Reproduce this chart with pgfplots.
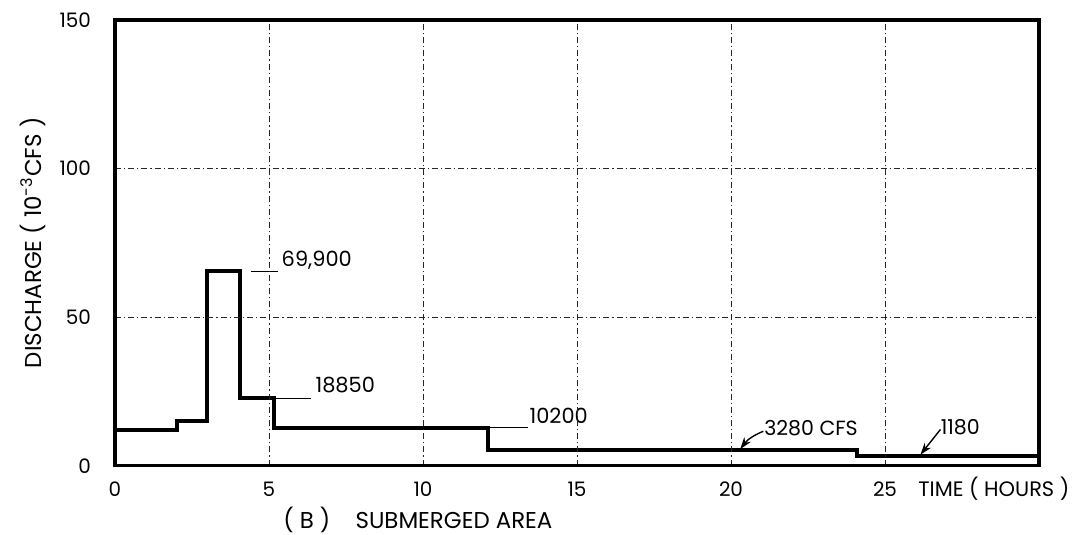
\documentclass[border=0pt]{standalone}
\usepackage{pgfplots}
\pgfplotsset{compat=1.18}
\usepackage{fontspec}
\setmainfont{Poppins}
\usetikzlibrary{arrows.meta}
\begin{document}
\begin{tikzpicture}
\useasboundingbox (-57.5bp,-34.65bp) rectangle (483bp,232.85bp);
\begin{axis}[
  at={(0,0)}, anchor=south west,
  scale only axis, width=462bp, height=222.85bp,
  xmin=0, xmax=30, ymin=0, ymax=150,
  xtick={0,5,10,15,20,25}, xticklabels={0,5,10,15,20,25},
  ytick={0,50,100,150}, yticklabels={0,50,100,150},
  major tick length=0pt,
  /pgf/number format/assume math mode=true,
  ticklabel style={font=\fontsize{10}{12}\selectfont},
  xticklabel style={yshift=-4.5bp},
  yticklabel style={xshift=-8.5bp},
  grid=major,
  major grid style={black!85, line width=0.35bp, dash pattern=on 3bp off 1.5bp on 0.6bp off 1.5bp},
  axis line style={line width=1.6bp},
  axis on top,
  clip=false,
]
\addplot[const plot, black, line width=2bp] coordinates {
  (0,12.0) (2,15.2) (3,65.4) (4.07,22.7) (5.15,12.7) (12.1,5.4) (24.1,3.4) (30,3.4)
};
% annotations
\draw[line width=0.6bp] (axis cs:4.4,65.4) -- (axis cs:5.3,65.4);
\node[anchor=west, inner sep=0pt, font=\fontsize{10.5}{12}\selectfont] at (axis cs:5.4,69.2) {69,900};
\draw[line width=0.6bp] (axis cs:5.2,22.7) -- (axis cs:6.35,22.7);
\node[anchor=west, inner sep=0pt, font=\fontsize{10.5}{12}\selectfont] at (axis cs:6.5,27.2) {18850};
\draw[line width=0.6bp] (axis cs:12.15,12.9) -- (axis cs:13.4,12.9);
\node[anchor=west, inner sep=0pt, font=\fontsize{10.5}{12}\selectfont] at (axis cs:13.45,16.9) {10200};
\node[anchor=west, inner sep=0pt, font=\fontsize{10.3}{12}\selectfont] at (axis cs:21.07,12.6) {3280 CFS};
\draw[line width=0.7bp, -{Stealth[length=6bp,width=4bp]}] (axis cs:21.05,11.6) to[bend right=15] (axis cs:20.3,5.6);
\node[anchor=west, inner sep=0pt, font=\fontsize{10.3}{12}\selectfont] at (axis cs:26.8,12.9) {1180};
\draw[line width=0.7bp, -{Stealth[length=6bp,width=4bp]}] (axis cs:26.8,12.2) -- (axis cs:26.15,3.7);
% axis texts
\node[anchor=west, inner sep=0pt, font=\fontsize{10.5}{12}\selectfont] at ([yshift=-11.5bp]axis cs:26.07,0) {TIME ( HOURS )};
\node[anchor=west, inner sep=0pt, font=\fontsize{11.5}{13}\selectfont] at ([yshift=-27bp]axis cs:5.45,0) {( B )\hspace{1.1em}SUBMERGED AREA};
\node[rotate=90, inner sep=0pt, font=\fontsize{11.5}{13}\selectfont] at ([xshift=-41bp]rel axis cs:0,0.5) {DISCHARGE ( 10\textsuperscript{-3}CFS )};
\end{axis}
\end{tikzpicture}
\end{document}
